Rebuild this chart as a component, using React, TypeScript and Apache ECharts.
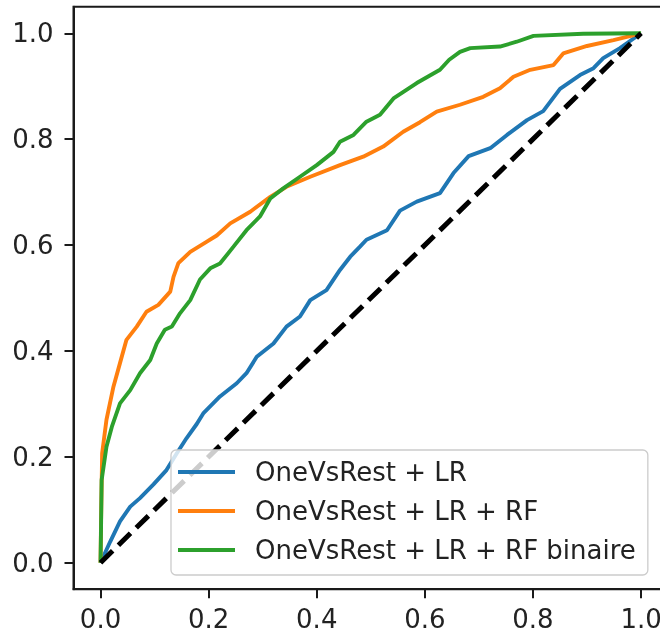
import React, { useEffect, useRef } from "react";
import * as echarts from "echarts";

const tickValues = [0, 0.2, 0.4, 0.6, 0.8, 1.0];

const seriesNames = [
  "OneVsRest + LR",
  "OneVsRest + LR + RF",
  "OneVsRest + LR + RF binaire",
];

const lrFpr = [0, 0.018, 0.036, 0.055, 0.073, 0.098, 0.122, 0.14, 0.159, 0.178, 0.19, 0.221, 0.252, 0.27, 0.289, 0.32, 0.344, 0.369, 0.388, 0.418, 0.443, 0.462, 0.48, 0.492, 0.53, 0.554, 0.585, 0.628, 0.653, 0.681, 0.721, 0.752, 0.789, 0.819, 0.85, 0.887, 0.912, 0.93, 0.961, 1];
const lrTpr = [0, 0.04, 0.078, 0.106, 0.122, 0.148, 0.175, 0.205, 0.235, 0.262, 0.282, 0.314, 0.339, 0.358, 0.389, 0.414, 0.446, 0.465, 0.496, 0.515, 0.553, 0.578, 0.597, 0.61, 0.628, 0.665, 0.682, 0.698, 0.736, 0.768, 0.783, 0.808, 0.836, 0.853, 0.895, 0.921, 0.934, 0.953, 0.972, 1];

const rfFpr = [0, 0.001, 0.003, 0.011, 0.024, 0.036, 0.048, 0.067, 0.085, 0.107, 0.129, 0.135, 0.144, 0.166, 0.196, 0.215, 0.24, 0.277, 0.314, 0.344, 0.388, 0.443, 0.486, 0.523, 0.56, 0.591, 0.622, 0.665, 0.708, 0.739, 0.764, 0.795, 0.838, 0.856, 0.9, 0.949, 1];
const rfTpr = [0, 0.08, 0.207, 0.27, 0.333, 0.377, 0.421, 0.446, 0.474, 0.487, 0.512, 0.54, 0.566, 0.587, 0.606, 0.618, 0.641, 0.663, 0.691, 0.71, 0.729, 0.751, 0.767, 0.786, 0.814, 0.832, 0.852, 0.865, 0.88, 0.896, 0.918, 0.931, 0.94, 0.962, 0.976, 0.987, 1];

const binFpr = [0, 0.001, 0.002, 0.011, 0.021, 0.036, 0.055, 0.073, 0.092, 0.104, 0.119, 0.132, 0.147, 0.166, 0.184, 0.203, 0.221, 0.246, 0.27, 0.295, 0.314, 0.338, 0.369, 0.4, 0.431, 0.443, 0.468, 0.492, 0.517, 0.542, 0.585, 0.628, 0.645, 0.665, 0.684, 0.739, 0.77, 0.801, 0.893, 1];
const binTpr = [0, 0.07, 0.156, 0.219, 0.257, 0.301, 0.326, 0.358, 0.383, 0.414, 0.44, 0.446, 0.471, 0.496, 0.535, 0.556, 0.565, 0.597, 0.628, 0.654, 0.688, 0.707, 0.729, 0.751, 0.776, 0.795, 0.808, 0.833, 0.846, 0.877, 0.906, 0.931, 0.95, 0.965, 0.972, 0.975, 0.984, 0.995, 0.999, 1];

const diagX = [0, 1];
const diagY = [0, 1];

const colors = ["#1f77b4", "#ff7f0e", "#2ca02c"];

const zip = (xs: number[], ys: number[]) => xs.map((x, i) => [x, ys[i]]);

export default function App() {
  const ref = useRef<HTMLDivElement>(null);
  useEffect(() => {
    if (!ref.current) return;
    const chart = echarts.init(ref.current, undefined, { renderer: "svg" });
    const font = "DejaVu Sans";
    const axisColor = "#1a1a1a";
    const curves = [
      zip(lrFpr, lrTpr),
      zip(rfFpr, rfTpr),
      zip(binFpr, binTpr),
    ];
    chart.setOption({
      animation: false,
      grid: { left: 73.5, top: 6.8, width: 594.6, height: 582.4, show: true, borderColor: axisColor, borderWidth: 2, backgroundColor: "transparent" },
      xAxis: {
        type: "value",
        min: -0.05,
        max: 1.05,
        splitLine: { show: false },
        axisLine: { show: true, onZero: false, lineStyle: { color: axisColor, width: 2 } },
        axisTick: { show: true, length: 9, inside: false, customValues: tickValues, lineStyle: { color: axisColor, width: 2 } },
        axisLabel: { customValues: tickValues, formatter: (v: number) => v.toFixed(1), fontFamily: font, fontSize: 26, color: "#222", margin: 17 },
      },
      yAxis: {
        type: "value",
        min: -0.05,
        max: 1.05,
        splitLine: { show: false },
        axisLine: { show: true, onZero: false, lineStyle: { color: axisColor, width: 2 } },
        axisTick: { show: true, length: 9, inside: false, customValues: tickValues, lineStyle: { color: axisColor, width: 2 } },
        axisLabel: { customValues: tickValues, formatter: (v: number) => v.toFixed(1), fontFamily: font, fontSize: 26, color: "#222", margin: 20 },
      },
      legend: {
        data: seriesNames,
        orient: "vertical",
        left: 171,
        top: 450,
        z: 10,
        padding: [7, 12, 10, 7],
        itemGap: 9,
        itemWidth: 57,
        itemHeight: 4,
        icon: "rect",
        backgroundColor: "rgba(255,255,255,0.8)",
        borderColor: "#cccccc",
        borderWidth: 1.3,
        borderRadius: 5,
        textStyle: { fontFamily: font, fontSize: 26, color: "#222", lineHeight: 30, padding: [0, 0, 0, 15] },
      },
      series: [
        ...curves.map((d, i) => ({
          name: seriesNames[i],
          type: "line",
          data: d,
          showSymbol: false,
          symbol: "none",
          color: colors[i],
          lineStyle: { color: colors[i], width: 3.9 },
          z: 2,
        })),
        {
          name: "diag",
          type: "line",
          data: zip(diagX, diagY),
          showSymbol: false,
          symbol: "none",
          lineStyle: { color: "#000", width: 5, type: [17, 8] },
          z: 3,
        },
      ],
    });
    return () => chart.dispose();
  }, []);
  return <div ref={ref} style={{ position: "fixed", left: 0, top: 0, width: 700, height: 635 }} />;
}
